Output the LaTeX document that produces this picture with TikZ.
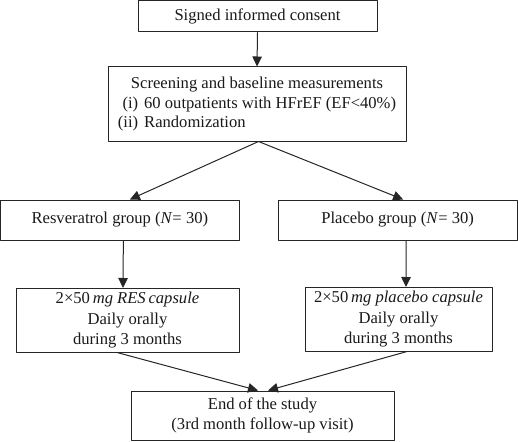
\documentclass[tikz,border=0pt]{standalone}
\usepackage{fontspec}
\setmainfont{Liberation Serif}
\usetikzlibrary{arrows.meta, positioning}

\begin{document}
\begin{tikzpicture}[x=1pt,y=-1pt,line cap=round,line join=round,
  box/.style={draw=black!85, line width=1pt, rectangle, inner sep=0pt, align=center,
    text=black!90, font=\fontsize{16.6}{20.5}\selectfont},
  arr/.style={-{Triangle[length=10pt,width=9.5pt]}, draw=black!85, line width=1pt}]

\useasboundingbox (0,0) rectangle (518,441);

% Boxes
\node[box, minimum width=239, minimum height=31.3] (consent) at (257.5,16.35) {Signed informed consent};
\node[box, minimum width=298, minimum height=74] (screen) at (257,104)
  {\begin{tabular}{@{}r@{\hspace{6pt}}l@{}}
   \multicolumn{2}{@{}c@{}}{Screening and baseline measurements}\\[-1pt]
   (i) & 60 outpatients with HFrEF (EF<40\%)\\[-1pt]
   (ii) & Randomization
   \end{tabular}};
\node[box, minimum width=238.3, minimum height=40] (resgrp) at (119.85,220) {Resveratrol group (\textit{N}= 30)};
\node[box, minimum width=239.3, minimum height=40] (plgrp) at (397.65,220) {Placebo group (\textit{N}= 30)};
\node[box, minimum width=223, minimum height=63.5] (rescap) at (127.5,320.25)
  {2×50\,\textit{mg RES\,capsule}\\ Daily orally\\ during 3 months};
\node[box, minimum width=187, minimum height=63.5] (plcap) at (398.5,319.25)
  {2×50\,\textit{mg placebo capsule}\\ Daily orally\\ during 3 months};
\node[box, minimum width=263, minimum height=49] (endst) at (262.5,415.5)
  {End of the study\\ (3rd month follow-up visit)};

% Arrows
\draw[arr] (consent.south) -- (screen.north);
\draw[arr] ([xshift=1.5]screen.south) -- ([xshift=10]resgrp.north);
\draw[arr] ([xshift=1.5]screen.south) -- ([xshift=5.5]plgrp.north);
\draw[arr] ([xshift=3.5]resgrp.south) -- ([xshift=-4.5]rescap.north);
\draw[arr] ([xshift=8.5]plgrp.south) -- ([xshift=7.5]plcap.north);
\draw[arr] ([xshift=-10.5]rescap.south) -- ([xshift=-4.5]endst.north);
\draw[arr] ([xshift=8.5]plcap.south) -- ([xshift=5.5]endst.north);

\end{tikzpicture}
\end{document}
